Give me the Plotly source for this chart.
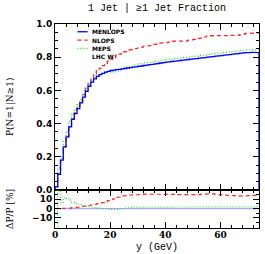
import plotly.graph_objects as go

# ---- data ----
bin_edges = list(range(0, 75))  # y (GeV) bin edges, 1 GeV bins

menlops = [0.02, 0.095, 0.18, 0.26, 0.32, 0.38, 0.425, 0.46, 0.49, 0.525,
           0.56, 0.595, 0.625, 0.65, 0.67, 0.685, 0.695, 0.703, 0.71, 0.715,
           0.72, 0.722, 0.725, 0.727, 0.73, 0.732, 0.735, 0.737, 0.74, 0.742,
           0.745, 0.747, 0.75, 0.752, 0.755, 0.757, 0.76, 0.762, 0.765, 0.767,
           0.77, 0.772, 0.774, 0.776, 0.778, 0.78, 0.782, 0.784, 0.786, 0.788,
           0.79, 0.792, 0.794, 0.796, 0.798, 0.80, 0.802, 0.804, 0.806, 0.808,
           0.81, 0.812, 0.814, 0.816, 0.818, 0.82, 0.822, 0.824, 0.826, 0.827,
           0.828, 0.829, 0.829, 0.828]

nlops = [0.02, 0.095, 0.181, 0.26, 0.322, 0.382, 0.429, 0.465, 0.497, 0.536,
         0.574, 0.613, 0.647, 0.676, 0.70, 0.719, 0.733, 0.749, 0.763, 0.776,
         0.788, 0.798, 0.812, 0.818, 0.829, 0.834, 0.842, 0.846, 0.849, 0.853,
         0.857, 0.861, 0.866, 0.867, 0.870, 0.876, 0.880, 0.879, 0.885, 0.885,
         0.888, 0.891, 0.896, 0.895, 0.894, 0.896, 0.898, 0.897, 0.902, 0.904,
         0.907, 0.912, 0.914, 0.920, 0.923, 0.929, 0.931, 0.931, 0.929, 0.927,
         0.930, 0.931, 0.930, 0.932, 0.930, 0.933, 0.931, 0.936, 0.939, 0.943,
         0.944, 0.947, 0.947, 0.946]

meps = [0.012, 0.133, 0.191, 0.291, 0.355, 0.414, 0.455, 0.485, 0.512, 0.546,
        0.577, 0.61, 0.638, 0.66, 0.677, 0.692, 0.698, 0.703, 0.71, 0.711,
        0.713, 0.711, 0.718, 0.723, 0.73, 0.736, 0.742, 0.744, 0.751, 0.753,
        0.760, 0.762, 0.765, 0.768, 0.770, 0.772, 0.776, 0.777, 0.781, 0.782,
        0.786, 0.787, 0.789, 0.792, 0.793, 0.796, 0.797, 0.800, 0.801, 0.804,
        0.806, 0.807, 0.810, 0.812, 0.814, 0.816, 0.818, 0.820, 0.822, 0.824,
        0.826, 0.828, 0.830, 0.832, 0.834, 0.836, 0.838, 0.840, 0.842, 0.843,
        0.844, 0.845, 0.845, 0.844]

ratio_menlops = [0.0] * 74
ratio_nlops = [0, 0, 0.5, 0, 0.5, 0.5, 1, 1, 1.5, 2,
               2.5, 3, 3.5, 4, 4.5, 5, 5.5, 6.5, 7.5, 8.5,
               9.5, 10.5, 12, 12.5, 13.5, 14, 14.5, 14.5, 14.8, 15,
               15, 15.2, 15.5, 15.3, 15.2, 15.6, 15.8, 15.4, 15.7, 15.4,
               15.3, 15.4, 15.8, 15.3, 14.9, 14.9, 14.8, 14.4, 14.8, 14.8,
               14.8, 15.2, 15.1, 15.6, 15.7, 16.1, 16.1, 15.8, 15.3, 14.7,
               14.8, 14.7, 14.3, 14.2, 13.7, 13.8, 13.3, 13.6, 13.7, 14.0,
               14.0, 14.2, 14.2, 14.2]
ratio_meps = [-40, 40, 6, 12, 11, 9, 7, 5.5, 4.5, 4,
              3, 2.5, 2, 1.5, 1, 1, 0.5, 0, 0, -0.5,
              -1, -1.5, -1, -0.5, 0, 0.5, 1, 1, 1.5, 1.5,
              2, 2, 2, 2.1, 2, 2, 2.1, 2, 2.1, 2,
              2.1, 2, 1.9, 2, 1.9, 2, 1.9, 2, 1.9, 2,
              2, 1.9, 2, 2, 2, 2, 2, 2, 2, 2,
              2, 2, 2, 2, 2, 2, 2, 2, 2, 2,
              2, 1.9, 1.9, 1.9]

labels = ["MENLOPS", "NLOPS", "MEPS"]
sample_label = "LHC W⁻"
title_text = "1 Jet | ≥1 Jet Fraction"
x_title = "y (GeV)"
y_title_main = "P(N=1|N≥1)"
y_title_ratio = "ΔP/P [%]"


def steps(edges, vals, drop=False):
    xs, ys = [], []
    if drop:
        xs.append(edges[0]); ys.append(0)
    for i, v in enumerate(vals):
        xs += [edges[i], edges[i + 1]]
        ys += [v, v]
    if drop:
        xs.append(edges[-1]); ys.append(0)
    return xs, ys


BLUE = "rgb(0,0,255)"
RED = "rgb(255,40,40)"
GREEN = "rgb(40,220,40)"

fig = go.Figure()

xs, ys = steps(bin_edges, nlops)
fig.add_trace(go.Scatter(x=xs, y=ys, mode="lines", line=dict(color=RED, width=1.3, dash="4px,3px"),
                         xaxis="x", yaxis="y", showlegend=False))
xs, ys = steps(bin_edges, meps)
fig.add_trace(go.Scatter(x=xs, y=ys, mode="lines", line=dict(color=GREEN, width=1.3, dash="1px,2px"),
                         xaxis="x", yaxis="y", showlegend=False))
xs, ys = steps(bin_edges, menlops, drop=True)
fig.add_trace(go.Scatter(x=xs, y=ys, mode="lines", line=dict(color=BLUE, width=1.3),
                         xaxis="x", yaxis="y", showlegend=False))

xs, ys = steps(bin_edges, ratio_menlops)
fig.add_trace(go.Scatter(x=xs, y=ys, mode="lines", line=dict(color="rgb(170,170,255)", width=1.2),
                         xaxis="x2", yaxis="y2", showlegend=False))
xs, ys = steps(bin_edges, ratio_nlops)
fig.add_trace(go.Scatter(x=xs, y=ys, mode="lines", line=dict(color=RED, width=1.2, dash="4px,3px"),
                         xaxis="x2", yaxis="y2", showlegend=False))
xs, ys = steps(bin_edges, ratio_meps)
fig.add_trace(go.Scatter(x=xs, y=ys, mode="lines", line=dict(color=GREEN, width=1.2, dash="1px,2px"),
                         xaxis="x2", yaxis="y2", showlegend=False))

tickfont = dict(family="DejaVu Sans", size=9, color="black", weight="bold")
common = dict(showgrid=False, zeroline=False, showline=True, linecolor="black", linewidth=1,
              mirror="ticks", ticks="inside", ticklen=6, tickcolor="black", tickwidth=1,
              automargin=False)

split = 38 / 204
fig.update_layout(
    width=265, height=254,
    margin=dict(l=55, r=6, t=24, b=26),
    paper_bgcolor="white", plot_bgcolor="white",
    showlegend=False,
    xaxis=dict(range=[0, 74], domain=[0, 1], anchor="y", showticklabels=False, dtick=20,
               minor=dict(dtick=4, ticks="inside", ticklen=3, tickcolor="black"), **common),
    yaxis=dict(range=[0, 1.0], domain=[split, 1], anchor="x", dtick=0.2, tickformat=".1f",
               tickfont=tickfont,
               minor=dict(dtick=0.05, ticks="inside", ticklen=3, tickcolor="black"), **common),
    xaxis2=dict(range=[0, 74], domain=[0, 1], anchor="y2", matches="x", dtick=20,
                ticklabelstandoff=-2,
                tickfont=dict(family="DejaVu Serif", size=9, color="black", weight="bold"),
                minor=dict(dtick=4, ticks="inside", ticklen=3, tickcolor="black"), **common),
    yaxis2=dict(range=[-21, 20], domain=[0, split], anchor="x2", tickvals=[-10, 0, 10],
                tickfont=tickfont,
                minor=dict(dtick=5, ticks="inside", ticklen=3, tickcolor="black"), **common),
)

annots = [
    dict(text=title_text, x=0.5, y=1, xref="paper", yref="paper", xanchor="center", yanchor="middle",
         yshift=16, showarrow=False, font=dict(family="Liberation Mono", size=10, color="black")),
    dict(text=x_title, x=0.5, y=0, xref="paper", yref="paper", xanchor="center", yanchor="middle",
         yshift=-19, showarrow=False, font=dict(family="Liberation Mono", size=10, color="black")),
    dict(text=y_title_main, x=0, y=(1 + split) / 2, xref="paper", yref="paper", xanchor="center",
         yanchor="middle", xshift=-45, textangle=-90, showarrow=False,
         font=dict(family="DejaVu Serif", size=9, color="black")),
    dict(text=y_title_ratio, x=0, y=split / 2, xref="paper", yref="paper", xanchor="center",
         yanchor="middle", xshift=-45, textangle=-90, showarrow=False,
         font=dict(family="DejaVu Serif", size=9, color="black")),
]

leg_font = dict(family="DejaVu Sans", size=6, color="black", weight="bold")
leg_colors = [BLUE, RED, GREEN]
leg_dash = ["solid", "4px,3px", "1px,2px"]
leg_top = 0.962
leg_dy = 0.041
for i, name in enumerate(labels + [sample_label]):
    yy = leg_top - i * leg_dy
    annots.append(dict(text=name, x=0.17, y=yy, xref="paper", yref="paper", xanchor="left",
                       yanchor="middle", showarrow=False, font=leg_font))
    if i < 3:
        fig.add_shape(type="line", xref="paper", yref="paper", x0=0.11, x1=0.16, y0=yy, y1=yy,
                      line=dict(color=leg_colors[i], width=1.3, dash=leg_dash[i]))

fig.update_layout(annotations=annots)
fig.write_html("out.html", config={"displayModeBar": False},
               post_script="document.body.style.margin='0';")
